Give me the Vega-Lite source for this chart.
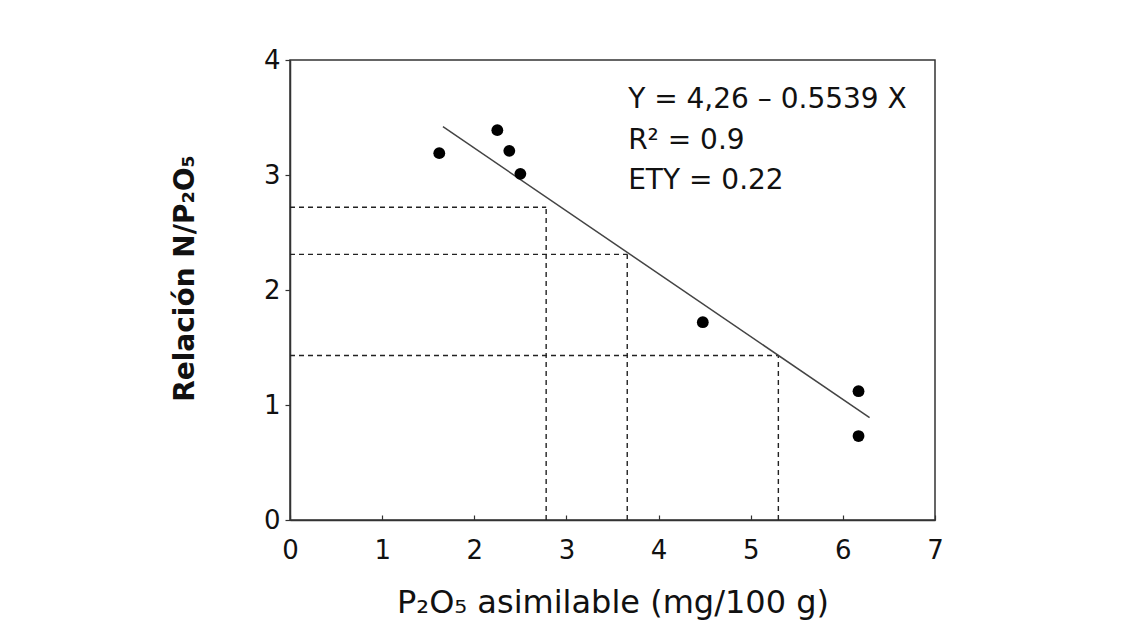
{
  "$schema": "https://vega.github.io/schema/vega-lite/v6.json",
  "autosize": "none",
  "width": 645,
  "height": 460,
  "padding": {"left": 290, "top": 60, "right": 194, "bottom": 123},
  "background": "white",
  "config": {
    "view": {"stroke": "#333333", "strokeWidth": 1.5},
    "font": "DejaVu Sans",
    "axis": {"labelFont": "DejaVu Sans", "titleFont": "DejaVu Sans", "labelColor": "#111111", "titleColor": "#111111", "domainColor": "#333333", "tickColor": "#333333", "domainWidth": 1.5, "tickWidth": 1.2, "grid": false}
  },
  "datasets": {
    "points": [
      {"p2o5": 1.62, "ratio": 3.19},
      {"p2o5": 2.25, "ratio": 3.39},
      {"p2o5": 2.38, "ratio": 3.21},
      {"p2o5": 2.5, "ratio": 3.01},
      {"p2o5": 4.48, "ratio": 1.72},
      {"p2o5": 6.17, "ratio": 1.12},
      {"p2o5": 6.17, "ratio": 0.73}
    ],
    "fit": [
      {"p2o5": 1.66, "ratio": 3.42},
      {"p2o5": 6.29, "ratio": 0.89}
    ],
    "guides": [
      {"xs": 0, "xe": 2.78, "ys": 0, "ye": 2.72},
      {"xs": 0, "xe": 3.66, "ys": 0, "ye": 2.31},
      {"xs": 0, "xe": 5.3, "ys": 0, "ye": 1.43}
    ],
    "notes": [
      {"label": "Y = 4,26 – 0.5539 X", "p2o5": 3.67, "ratio": 3.65},
      {"label": "R² = 0.9", "p2o5": 3.67, "ratio": 3.3},
      {"label": "ETY = 0.22", "p2o5": 3.67, "ratio": 2.95}
    ]
  },
  "layer": [
    {
      "data": {"name": "guides"},
      "mark": {"type": "rule", "strokeDash": [5, 4], "color": "#222222", "strokeWidth": 1.4},
      "encoding": {
        "x": {"field": "xs", "type": "quantitative", "scale": {"domain": [0, 7]},
          "axis": {"title": "P₂O₅ asimilable (mg/100 g)", "values": [0,1,2,3,4,5,6,7], "labelFontSize": 26, "titleFontSize": 32, "titleFontWeight": "normal", "tickSize": -5, "labelPadding": 22, "titleY": 82, "titleBaseline": "middle", "format": "d", "labelFlush": false}},
        "x2": {"field": "xe"},
        "y": {"field": "ye", "type": "quantitative", "scale": {"domain": [0, 4]},
          "axis": {"title": "Relación N/P₂O₅", "values": [0,1,2,3,4], "labelFontSize": 26, "titleFontSize": 28, "titleFontWeight": "bold", "tickSize": 5, "labelPadding": 5, "titleX": -105, "titleY": 218, "titleAngle": -90, "titleAlign": "center", "titleBaseline": "middle", "format": "d", "labelFlush": false}}
      }
    },
    {
      "data": {"name": "guides"},
      "mark": {"type": "rule", "strokeDash": [5, 4], "color": "#222222", "strokeWidth": 1.4},
      "encoding": {
        "x": {"field": "xe", "type": "quantitative"},
        "y": {"field": "ys", "type": "quantitative"},
        "y2": {"field": "ye"}
      }
    },
    {
      "data": {"name": "fit"},
      "mark": {"type": "line", "color": "#444444", "strokeWidth": 1.5},
      "encoding": {
        "x": {"field": "p2o5", "type": "quantitative"},
        "y": {"field": "ratio", "type": "quantitative"}
      }
    },
    {
      "data": {"name": "points"},
      "mark": {"type": "circle", "color": "#000000", "opacity": 1, "size": 140},
      "encoding": {
        "x": {"field": "p2o5", "type": "quantitative"},
        "y": {"field": "ratio", "type": "quantitative"}
      }
    },
    {
      "data": {"name": "notes"},
      "mark": {"type": "text", "align": "left", "baseline": "middle", "fontSize": 28, "color": "#111111", "font": "DejaVu Sans"},
      "encoding": {
        "x": {"field": "p2o5", "type": "quantitative"},
        "y": {"field": "ratio", "type": "quantitative"},
        "text": {"field": "label"}
      }
    }
  ]
}
